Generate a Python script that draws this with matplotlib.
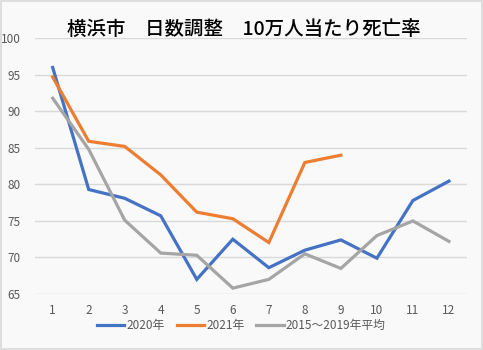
import matplotlib.pyplot as plt
from matplotlib.patches import Rectangle

plt.rcParams['font.family'] = ['Noto Sans CJK JP', 'DejaVu Sans']

months = [1, 2, 3, 4, 5, 6, 7, 8, 9, 10, 11, 12]
rate_2020 = [96.0, 79.3, 78.1, 75.7, 67.0, 72.5, 68.6, 71.0, 72.4, 69.9, 77.8, 80.45]
rate_2021 = [94.7, 85.9, 85.2, 81.3, 76.2, 75.3, 72.05, 83.0, 84.0]
rate_avg = [91.8, 84.8, 75.1, 70.6, 70.3, 65.8, 67.0, 70.5, 68.5, 73.0, 75.0, 72.2]
labels = ['2020年', '2021年', '2015～2019年平均']
colors = ['#4472C4', '#ED7D31', '#A5A5A5']

bg = '#f9f9f9'
fig = plt.figure(figsize=(4.83, 3.5), dpi=100, facecolor=bg)
ax = fig.add_axes([0.0718, 0.16, 0.895, 0.7306], facecolor=bg)

series = [rate_2020, rate_2021, rate_avg]
for vals, lab, col in zip(series, labels, colors):
    ax.plot(months[:len(vals)], vals, color=col, lw=2.3, label=lab,
            solid_joinstyle='miter', zorder=3)

ax.set_xlim(0.5, 12.5)
ax.set_ylim(65, 100)
ax.set_xticks(months)
ax.set_yticks(range(65, 101, 5))
ax.grid(axis='y', color='#d9d9d9', lw=1)
ax.set_axisbelow(True)
for s in ax.spines.values():
    s.set_visible(False)
ax.tick_params(length=0, labelsize=8.5, labelcolor='#595959')
ax.tick_params(axis='x', pad=7)
ax.tick_params(axis='y', pad=10)

fig.text(0.505, 0.915, '横浜市　日数調整　10万人当たり死亡率', ha='center', va='center',
         fontsize=14, color='black', fontweight='medium')

fig.legend(loc='center', bbox_to_anchor=(0.5, 0.071), ncol=3, frameon=False,
           fontsize=8.5, labelcolor='#595959', handlelength=2.3, handletextpad=0.2,
           columnspacing=1.0)

fig.patches.append(Rectangle((0.002, 0.003), 0.995, 0.994, transform=fig.transFigure,
                             fill=False, edgecolor='#d9d9d9', lw=1.2))

fig.savefig('out.png', dpi=100, facecolor=bg)
